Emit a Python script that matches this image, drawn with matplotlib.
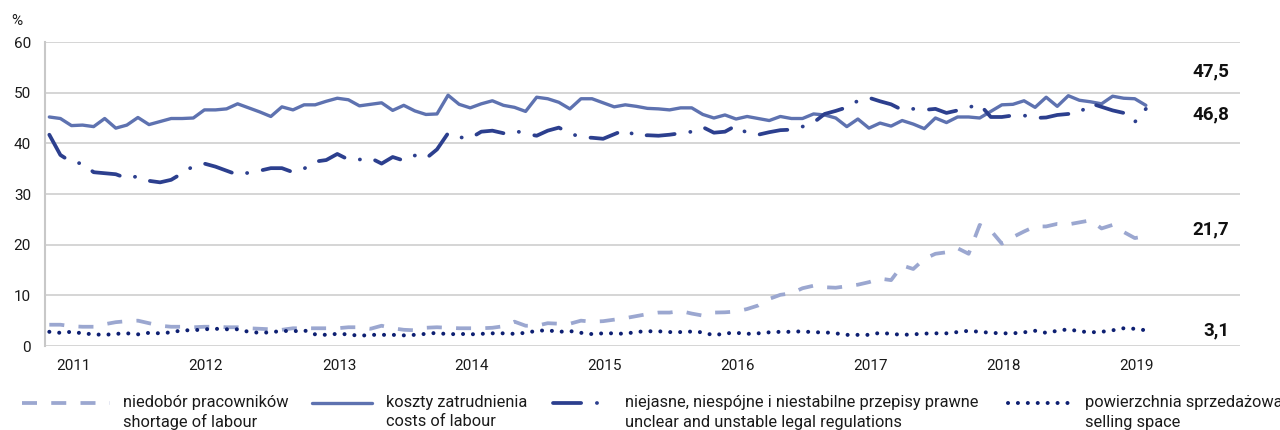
import matplotlib
matplotlib.use("Agg")
import matplotlib.pyplot as plt
from matplotlib.lines import Line2D
from matplotlib.transforms import blended_transform_factory
import numpy as np

plt.rcParams['font.family'] = ['Roboto', 'DejaVu Sans']

# ---- data (monthly, Nov 2010 - Feb 2019) ----
years = ['2011', '2012', '2013', '2014', '2015', '2016', '2017', '2018', '2019']

costs = [45.2, 44.9, 43.5, 43.6, 43.3, 44.9, 43.0, 43.6, 45.1, 43.7,
         44.3, 44.9, 44.9, 45.0, 46.6, 46.6, 46.8, 47.8, 47.0, 46.2,
         45.3, 47.2, 46.6, 47.6, 47.6, 48.3, 48.9, 48.6, 47.4, 47.7,
         48.0, 46.5, 47.5, 46.4, 45.7, 45.8, 49.5, 47.7, 47.0, 47.8,
         48.4, 47.5, 47.1, 46.3, 49.1, 48.8, 48.1, 46.8, 48.8, 48.8,
         48.0, 47.2, 47.6, 47.3, 46.9, 46.8, 46.6, 47.0, 47.0, 45.7,
         45.0, 45.6, 44.8, 45.3, 44.9, 44.5, 45.3, 44.9, 44.9, 45.8,
         45.6, 45.0, 43.3, 44.8, 43.0, 44.0, 43.4, 44.5, 43.8, 42.9,
         45.0, 44.1, 45.2, 45.2, 45.0, 46.3, 47.6, 47.7, 48.4, 47.1,
         49.1, 47.3, 49.4, 48.5, 48.2, 47.8, 49.3, 48.9, 48.8, 47.5]

legal = [41.7, 37.7, 36.3, 36.0, 34.3, 34.1, 33.9, 33.1, 33.5, 32.6,
         32.3, 32.8, 34.1, 35.5, 36.0, 35.4, 34.6, 33.8, 34.2, 34.6,
         35.1, 35.1, 34.3, 35.0, 36.4, 36.7, 37.9, 36.8, 36.8, 37.1,
         36.0, 37.3, 36.6, 37.6, 37.0, 38.8, 42.0, 41.2, 41.0, 42.3,
         42.5, 42.0, 42.5, 41.9, 41.5, 42.5, 43.1, 42.0, 41.2, 41.1,
         40.9, 41.8, 42.7, 41.4, 41.6, 41.5, 41.7, 42.0, 42.3, 43.2,
         42.1, 42.3, 43.5, 42.0, 41.7, 42.2, 42.6, 42.7, 43.3, 44.1,
         45.8, 46.4, 47.1, 48.4, 49.0, 48.3, 47.7, 46.6, 46.8, 46.6,
         46.8, 46.0, 46.5, 47.1, 47.7, 45.2, 45.2, 45.5, 45.5, 45.0,
         45.1, 45.6, 45.8, 46.0, 47.9, 47.2, 46.5, 46.0, 44.2, 46.8]

shortage = [4.2, 4.2, 3.9, 3.8, 3.8, 4.3, 4.7, 4.9, 5.0, 4.5,
            4.0, 3.8, 3.8, 3.7, 3.8, 3.8, 3.7, 3.7, 3.5, 3.4,
            3.3, 3.2, 3.5, 3.5, 3.5, 3.5, 3.5, 3.7, 3.7, 3.4,
            4.0, 3.5, 3.2, 3.1, 3.6, 3.7, 3.6, 3.5, 3.5, 3.5,
            3.6, 3.9, 4.8, 4.0, 4.0, 4.5, 4.4, 4.4, 5.0, 4.8,
            4.9, 5.2, 5.5, 5.9, 6.3, 6.6, 6.6, 6.9, 6.4, 6.0,
            6.6, 6.65, 6.8, 7.3, 8.0, 9.3, 10.1, 10.4, 11.4, 11.9,
            11.6, 11.5, 11.8, 12.1, 12.6, 13.3, 13.0, 15.9, 15.2, 17.2,
            18.2, 18.5, 19.3, 18.2, 23.9, 22.8, 20.2, 21.5, 22.6, 23.6,
            23.6, 24.1, 24.0, 24.4, 24.8, 23.2, 23.9, 22.5, 21.3, 21.7]

selling = [2.8, 2.6, 2.8, 2.5, 2.3, 2.2, 2.4, 2.5, 2.3, 2.6,
           2.5, 2.7, 3.1, 3.1, 3.3, 3.4, 3.3, 3.3, 2.8, 2.6,
           2.7, 3.0, 2.9, 3.1, 2.3, 2.2, 2.4, 2.3, 2.0, 2.2,
           2.2, 2.2, 2.1, 2.2, 2.4, 2.6, 2.3, 2.4, 2.3, 2.4,
           2.5, 2.5, 2.4, 2.6, 3.0, 3.1, 2.8, 2.95, 2.6, 2.35,
           2.5, 2.5, 2.4, 2.8, 2.9, 2.9, 2.75, 2.75, 2.85, 2.7,
           2.1, 2.5, 2.6, 2.4, 2.5, 2.7, 2.8, 2.8, 2.9, 2.7,
           2.7, 2.5, 2.2, 2.2, 2.2, 2.6, 2.4, 2.2, 2.3, 2.45,
           2.5, 2.5, 2.75, 3.0, 2.8, 2.6, 2.5, 2.5, 2.7, 3.0,
           2.6, 3.0, 3.3, 2.9, 2.7, 2.8, 3.1, 3.5, 3.4, 3.1]

end_labels = ['47,5', '46,8', '21,7', '3,1']
names_pl = ['niedobór pracowników', 'koszty zatrudnienia',
            'niejasne, niespójne i niestabilne przepisy prawne', 'powierzchnia sprzedażowa']
names_en = ['shortage of labour', 'costs of labour',
            'unclear and unstable legal regulations', 'selling space']

# ---- styles ----
c_short = '#9ba7d0'
c_cost = '#5e72b0'
c_legal = '#2c3f8e'
c_sell = '#0d1f72'

W, H = 1280, 430
fig = plt.figure(figsize=(W / 100, H / 100), dpi=100)
ax = fig.add_axes([45 / W, 1 - 346 / H, (1240 - 45) / W, (346 - 42) / H])

x = np.arange(len(costs))

st_short = dict(color=c_short, lw=2.7, dashes=(4.0, 3.8), dash_capstyle='butt')
st_cost = dict(color=c_cost, lw=2.4, solid_joinstyle='round', solid_capstyle='round')
st_legal = dict(color=c_legal, lw=2.7, dashes=(7.5, 4.2, 0.05, 4.2), dash_capstyle='round', dash_joinstyle='round')
st_sell = dict(color=c_sell, lw=2.9, dashes=(0.01, 2.45), dash_capstyle='round')

ax.plot(x, shortage, **st_short)
ax.plot(x, costs, **st_cost)
ax.plot(x, legal, **st_legal)
ax.plot(x, selling, **st_sell)

ax.set_xlim(-0.39, 107.5)
ax.set_ylim(0, 60)
ax.set_yticks(range(0, 61, 10))
ax.set_xticks(np.arange(len(years)) * 12 + 2.15)
ax.set_xticklabels(years)
ax.tick_params(axis='both', length=0, labelsize=11, colors='#1a1a1a')
ax.tick_params(axis='y', pad=10)
ax.tick_params(axis='x', pad=9)
ax.grid(axis='y', color='#d2d2d2', lw=1.3)
ax.set_axisbelow(True)
for s in ['top', 'right', 'bottom']:
    ax.spines[s].set_visible(False)
ax.spines['left'].set_color('#c8c8c8')
ax.spines['left'].set_linewidth(1.5)

fig.text(11 / W, 1 - 21 / H, '%', fontsize=11, va='center', ha='left', color='#1a1a1a')

# end-value labels
tr = blended_transform_factory(fig.transFigure, ax.transData)
label_y = [54.1, 45.8, 23.1, 3.0]
for t, yy in zip(end_labels, label_y):
    ax.text(1229 / W, yy, t, transform=tr, ha='right', va='center',
            fontsize=13.5, fontweight='bold', color='#111111')

# legend (manual)
styles = [st_short, st_cost, st_legal, st_sell]
handle_x = [(22, 110), (312, 372), (553, 612), (1008, 1075)]
text_x = [123, 386, 625, 1085]
y1 = 1 - 403 / H
y2 = 1 - 422 / H
for st, (a, b), tx, pl, en in zip(styles, handle_x, text_x, names_pl, names_en):
    fig.add_artist(Line2D([a / W, b / W], [y1, y1], transform=fig.transFigure, **st))
    fig.text(tx / W, y1, pl, fontsize=11.8, va='center', ha='left', color='#1a1a1a')
    fig.text(tx / W, y2, en, fontsize=11.8, va='center', ha='left', color='#1a1a1a')

fig.savefig('out.png', dpi=100)
